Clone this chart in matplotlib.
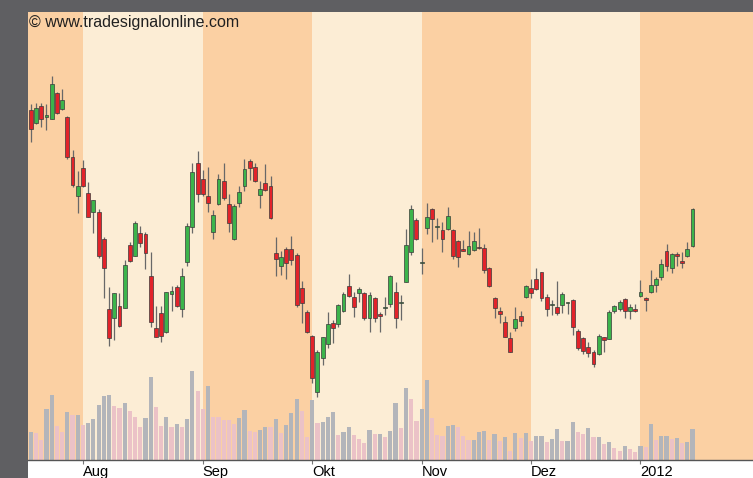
import matplotlib
matplotlib.use("Agg")
import matplotlib.pyplot as plt
from matplotlib.patches import Rectangle
import numpy as np

# daily candles (arbitrary price units), Jul 2011 - Jan 2012
opens = [39.0, 37.7, 39.4, 38.3, 38.1, 40.7, 39.1, 38.3, 34.3, 30.4,
         33.2, 30.7, 28.8, 28.8, 26.1, 19.1, 18.2, 19.4, 19.2, 25.5,
         24.4, 26.7, 26.6, 22.4, 17.2, 18.7, 16.8, 20.6, 21.3, 19.1,
         23.8, 27.3, 33.7, 32.1, 30.4, 26.8, 29.6, 31.9, 29.6, 26.1,
         29.7, 31.4, 33.9, 33.3, 30.5, 31.7, 31.4, 24.7, 23.4, 25.1,
         25.1, 24.5, 21.2, 18.8, 16.4, 10.8, 14.2, 15.6, 17.7, 17.6,
         18.9, 21.4, 20.3, 20.7, 20.7, 18.2, 20.2, 18.6, 19.2, 19.6,
         20.8, 19.7, 21.8, 24.8, 28.0, 23.7, 27.2, 29.1, 27.3, 27.0,
         27.1, 27.0, 25.9, 25.1, 24.6, 25.0, 25.2, 25.2, 23.2, 20.2,
         18.9, 17.8, 16.2, 17.2, 18.4, 20.3, 21.2, 22.1, 22.8, 20.3,
         19.5, 19.3, 19.5, 19.7, 20.0, 16.9, 16.2, 15.3, 14.8, 14.6,
         16.3, 16.1, 18.9, 19.1, 20.1, 18.9, 19.1, 20.4, 20.2, 20.8,
         21.5, 22.3, 24.9, 23.2, 24.6, 23.9, 24.4, 25.4]
highs = [39.6, 39.7, 39.7, 39.6, 42.4, 40.8, 41.1, 38.4, 35.0, 32.9,
         34.0, 31.8, 30.0, 29.1, 26.3, 21.3, 20.7, 20.7, 24.0, 25.8,
         27.9, 27.4, 26.8, 24.8, 19.4, 19.4, 20.8, 21.4, 21.5, 23.2,
         27.7, 33.7, 34.9, 33.0, 33.3, 29.0, 32.6, 33.7, 30.6, 29.6,
         31.4, 34.1, 34.1, 33.7, 31.9, 33.6, 32.4, 26.3, 24.9, 25.3,
         26.4, 24.7, 21.9, 19.0, 16.5, 15.0, 16.3, 18.8, 18.0, 19.6,
         20.8, 22.6, 20.8, 21.3, 20.8, 20.8, 20.3, 18.8, 20.3, 22.5,
         21.8, 20.5, 27.1, 29.5, 28.2, 25.2, 29.7, 29.2, 28.2, 27.8,
         29.3, 27.1, 26.0, 26.0, 26.9, 26.8, 27.2, 25.6, 23.3, 20.3,
         19.3, 18.4, 16.8, 19.3, 18.9, 21.5, 22.1, 23.2, 22.8, 20.6,
         20.0, 21.9, 20.8, 19.8, 20.1, 17.1, 16.3, 15.8, 15.0, 16.6,
         16.3, 19.0, 19.5, 20.0, 20.2, 19.6, 19.6, 22.0, 20.3, 23.0,
         22.3, 24.1, 25.6, 24.7, 24.8, 24.8, 25.8, 29.2]
lows = [35.8, 37.6, 37.3, 37.0, 38.1, 38.6, 39.0, 34.1, 31.3, 28.7,
        31.3, 28.3, 26.7, 24.2, 20.2, 15.4, 16.0, 17.3, 19.2, 23.8,
        24.4, 25.3, 23.1, 17.3, 16.3, 15.8, 16.7, 18.9, 19.3, 18.3,
        23.4, 26.7, 29.8, 30.4, 28.8, 26.1, 29.5, 30.0, 26.8, 26.0,
        29.3, 30.9, 32.0, 31.8, 29.2, 30.9, 28.1, 22.4, 22.5, 22.1,
        23.5, 19.3, 17.7, 16.7, 11.7, 10.3, 13.5, 15.2, 15.7, 17.3,
        18.8, 20.3, 18.3, 19.8, 18.0, 16.8, 17.8, 16.8, 18.5, 19.3,
        17.2, 18.0, 21.8, 24.5, 26.0, 22.6, 26.6, 25.8, 26.1, 24.8,
        27.0, 24.1, 23.3, 24.9, 24.5, 24.9, 25.1, 22.7, 21.3, 18.2,
        17.7, 16.3, 14.8, 16.9, 17.4, 20.2, 20.2, 21.0, 19.9, 18.4,
        18.5, 18.5, 18.7, 18.6, 16.5, 15.0, 14.6, 14.3, 13.3, 14.5,
        14.8, 16.1, 18.7, 18.9, 18.2, 18.1, 18.8, 20.3, 18.9, 20.7,
        20.8, 22.0, 22.9, 22.7, 23.4, 23.2, 24.3, 25.3]
closes = [37.1, 39.2, 38.1, 38.5, 41.6, 38.7, 40.0, 34.3, 31.5, 31.4,
          31.4, 28.3, 30.0, 24.4, 23.2, 16.2, 20.7, 17.4, 23.5, 23.9,
          27.7, 25.7, 24.7, 17.8, 16.3, 16.4, 20.8, 20.9, 19.4, 22.4,
          27.4, 32.8, 30.6, 30.6, 29.7, 28.5, 32.1, 30.2, 27.7, 29.4,
          30.8, 33.1, 33.2, 31.9, 31.1, 31.0, 28.2, 24.1, 24.3, 23.7,
          24.0, 19.5, 19.7, 16.8, 12.2, 14.8, 16.3, 17.6, 17.2, 19.5,
          20.6, 20.4, 19.3, 21.1, 18.2, 20.5, 18.2, 18.4, 19.3, 22.4,
          18.2, 19.7, 25.5, 29.1, 26.1, 23.7, 28.3, 28.1, 27.3, 26.1,
          28.4, 24.4, 24.3, 24.9, 25.4, 25.9, 25.2, 23.0, 21.4, 19.2,
          18.6, 16.3, 14.8, 18.1, 17.9, 21.4, 20.7, 21.1, 20.2, 19.1,
          19.5, 18.7, 20.6, 19.7, 17.3, 15.2, 14.9, 14.7, 13.6, 16.4,
          16.0, 18.8, 19.4, 19.8, 18.9, 19.3, 18.9, 20.8, 20.0, 21.5,
          22.1, 23.6, 23.4, 24.6, 24.4, 23.7, 25.1, 29.1]
doji_up = [4, 72, 76, 79, 101, 104]  # 1-based candles drawn green although flat

# volume (millions) and its colour flag (g = grey, p = pink)
volume = [2.8, 2.7, 2.0, 5.1, 6.5, 3.4, 2.8, 4.8, 4.5, 4.5,
          3.5, 3.7, 4.1, 5.5, 6.4, 6.5, 5.4, 5.2, 5.7, 4.9,
          4.3, 3.3, 4.2, 8.3, 5.3, 3.4, 4.3, 3.3, 3.6, 3.3,
          4.1, 8.9, 6.9, 5.1, 7.4, 4.3, 4.3, 4.0, 4.0, 3.6,
          4.2, 5.0, 2.9, 2.8, 3.0, 3.3, 3.3, 4.1, 2.7, 3.5,
          4.7, 6.1, 4.9, 2.3, 6.0, 3.7, 3.8, 4.3, 4.8, 2.5,
          2.8, 3.3, 2.5, 2.1, 1.7, 3.0, 2.6, 2.6, 2.3, 2.9,
          5.7, 3.2, 7.2, 6.1, 3.9, 5.1, 8.0, 4.2, 2.5, 2.4,
          3.4, 3.5, 3.3, 2.4, 2.0, 2.0, 2.8, 2.9, 2.0, 2.6,
          1.9, 2.3, 0.9, 2.7, 2.2, 2.7, 1.9, 2.4, 2.4, 1.8,
          2.1, 3.1, 1.9, 1.9, 3.8, 2.8, 2.6, 3.2, 2.3, 2.3,
          1.6, 1.8, 1.2, 0.9, 1.4, 1.1, 0.8, 1.4, 1.3, 3.6,
          2.0, 2.4, 2.4, 2.1, 2.2, 1.7, 1.8, 3.1]
vol_flag = ("gppggppgpg" "pgggggppgp" "ppggppgpgp" "ggppgppppp" "ggppggpgpg"
            "ggppgpgggp" "ggpppgpgpg" "gpgppggppp" "ggpppgggpg" "pgpgpgpggp"
            "ggpggppgpg" "pgppgppgpg" "pggpgpgg")

month_labels = ["Aug", "Sep", "Okt", "Nov", "Dez", "2012"]
month_start = [10, 33, 54, 75, 96, 117]  # candle index of first trading day

GREEN = "#3cb44b"
RED = "#e2232a"
BAND_DARK = "#fbd0a3"
BAND_LIGHT = "#fcedd5"

W, H = 753, 478
fig = plt.figure(figsize=(W / 100, H / 100), dpi=100, facecolor="#5f5f62")
fig.patches.append(Rectangle((28 / W, 0), 1, 18 / H, transform=fig.transFigure,
                             facecolor="white", edgecolor="none", zorder=0))
ax = fig.add_axes([28 / W, 18 / H, (W - 28) / W, (460 - 12) / H])
n = len(opens)
x = np.arange(n)
xmax = 138.6

# volume axis sits underneath the price axis and carries the month bands
vax = ax.twinx()
vax.set_zorder(1)
ax.set_zorder(2)
ax.patch.set_visible(False)
edges = [-1] + month_start + [xmax + 1]
for k in range(len(edges) - 1):
    vax.axvspan(edges[k], edges[k + 1], color=BAND_DARK if k % 2 == 0 else BAND_LIGHT,
                lw=0, zorder=0)
vcol = ["#b3b5ba" if f == "g" else "#ebc2c7" for f in vol_flag[:n]]
vax.bar(x, volume, width=0.8, color=vcol, lw=0, zorder=1)
vax.set_ylim(0, 44.8)
vax.set_yticks([])
for s in vax.spines.values():
    s.set_visible(False)

# candles
o = np.array(opens); c = np.array(closes)
up = (c > o) | np.isin(x + 1, doji_up)
ax.vlines(x, lows, highs, color="#686868", lw=0.9, zorder=2)
body = np.maximum(np.abs(c - o), 0.15)
ax.bar(x, body, bottom=np.minimum(o, c), width=0.74,
       color=np.where(up, GREEN, RED), edgecolor="#3a3a3a", linewidth=0.5, zorder=3)

ax.set_xlim(-0.55, xmax)
ax.set_ylim(4.0, 48.8)
ax.set_yticks([])
for s in ["left", "top", "right"]:
    ax.spines[s].set_visible(False)
ax.spines["bottom"].set_color("#555555")
ax.spines["bottom"].set_linewidth(1.0)
ax.set_xticks(month_start)
ax.set_xticklabels(month_labels, fontsize=10.5, family="Liberation Sans", ha="left")
ax.tick_params(axis="x", length=3, width=0.8, color="#777777", pad=0.5)

fig.text(29 / W, 1 - 22 / H, "\u00a9 www.tradesignalonline.com", fontsize=11.5,
         family="Liberation Sans", color="#202020", va="center", ha="left")

fig.savefig("out.png", dpi=100, facecolor=fig.get_facecolor())
